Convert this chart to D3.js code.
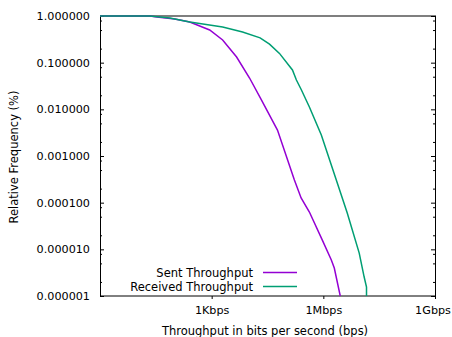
<!DOCTYPE html>
<html>
<head>
<meta charset="utf-8">
<script src="https://cdn.jsdelivr.net/npm/d3@7"></script>
<style>
  body { margin: 0; background: #fff; }
  text { font-family: "DejaVu Sans", sans-serif; font-size: 11.5px; fill: #000; }
</style>
</head>
<body>
<script>
// throughput (bps) vs relative frequency
var sentBps  = [1, 21.8, 33.6, 102, 258, 884, 1972, 4677, 10420, 21850, 58600, 167000, 253000, 422000, 940000, 1640000, 1970000, 2850000];
var sentFreq = [1, 1, 0.952, 0.863, 0.744, 0.501, 0.306, 0.132, 0.0469, 0.0158, 0.0036, 0.000306, 0.000126, 0.000063, 0.0000158, 0.0000059, 0.00000398, 0.000001];

var recvBps  = [1, 21.8, 75, 258, 1972, 6760, 20000, 35800, 66300, 148000, 189000, 258000, 422000, 883000, 2230000, 4390000, 9210000, 12500000, 14450000, 14450000];
var recvFreq = [1, 1, 0.906, 0.744, 0.581, 0.454, 0.34, 0.25, 0.158, 0.0697, 0.0425, 0.026, 0.0112, 0.00282, 0.000306, 0.00006, 0.0000083, 0.00000255, 0.00000156, 0.000001];

var xTicks = [1e3, 1e6, 1e9];
var xTickLabels = ["1Kbps", "1Mbps", "1Gbps"];
var yTicks = [1, 0.1, 0.01, 0.001, 0.0001, 0.00001, 0.000001];

var seriesNames = ["Sent Throughput", "Received Throughput"];
var colors = ["#9400d3", "#009e73"];

var W = 452, H = 337;
var margin = {top: 16, right: 17, bottom: 41, left: 100};
var width = W - margin.left - margin.right,
    height = H - margin.top - margin.bottom;

var svg = d3.select("body").append("svg")
    .attr("width", W)
    .attr("height", H);

var g = svg.append("g")
    .attr("transform", "translate(" + margin.left + "," + margin.top + ")");

var x = d3.scaleLog().domain([1, 1e9]).range([0, width]);
var y = d3.scaleLog().domain([1e-6, 1]).range([height, 0]);

// minor y ticks at 2, 5, 8 of each decade
var yMinor = [];
for (var e = -6; e < 0; e++) {
  [2, 5, 8].forEach(function(m) { yMinor.push(m * Math.pow(10, e)); });
}

g.append("g")
    .call(d3.axisLeft(y).tickValues(yMinor).tickSize(-2).tickFormat(""))
    .call(function(s) { s.select(".domain").remove(); });
g.append("g")
    .attr("transform", "translate(" + width + ",0)")
    .call(d3.axisRight(y).tickValues(yMinor).tickSize(-2).tickFormat(""))
    .call(function(s) { s.select(".domain").remove(); });

g.append("g")
    .call(d3.axisLeft(y).tickValues(yTicks).tickSize(-4).tickPadding(10)
      .tickFormat(d3.format(".6f")))
    .call(function(s) { s.select(".domain").remove(); s.selectAll("text").style("font-size", "11.2px").style("font-family", "DejaVu Sans"); });
g.append("g")
    .attr("transform", "translate(" + width + ",0)")
    .call(d3.axisRight(y).tickValues(yTicks).tickSize(-4).tickFormat(""))
    .call(function(s) { s.select(".domain").remove(); });

g.append("g")
    .attr("transform", "translate(0," + height + ")")
    .call(d3.axisBottom(x).tickValues(xTicks).tickSize(3).tickPadding(7)
      .tickFormat(function(d, i) { return xTickLabels[i]; }))
    .call(function(s) {
      s.select(".domain").remove();
      s.selectAll("text").style("font-size", "11.2px").style("font-family", "DejaVu Sans");
      // keep the last label inside the window
      s.selectAll("text").filter(function(d) { return d === 1e9; }).attr("dx", "-2.5");
    });

// frame
g.append("rect")
    .attr("x", 0.5).attr("y", 0)
    .attr("width", width).attr("height", height)
    .attr("fill", "none")
    .attr("stroke", "#000")
    .attr("stroke-width", 1);

var line = d3.line()
    .x(function(d) { return x(d[0]); })
    .y(function(d) { return y(d[1]); });

var series = [d3.zip(sentBps, sentFreq), d3.zip(recvBps, recvFreq)];

series.forEach(function(s, i) {
  g.append("path")
      .datum(s)
      .attr("d", line)
      .attr("fill", "none")
      .attr("stroke", colors[i])
      .attr("stroke-width", 1.5);
});

// legend
var legend = svg.append("g");
seriesNames.forEach(function(name, i) {
  var ly = 272.5 + i * 14;
  legend.append("text")
      .attr("x", 253).attr("y", ly + 4)
      .attr("text-anchor", "end")
      .text(name);
  legend.append("line")
      .attr("x1", 263).attr("x2", 297)
      .attr("y1", ly).attr("y2", ly)
      .attr("stroke", colors[i])
      .attr("stroke-width", 1.5);
});

// axis titles
svg.append("text")
    .attr("x", 265).attr("y", 334.5)
    .attr("text-anchor", "middle")
    .text("Throughput in bits per second (bps)");

svg.append("text")
    .attr("transform", "translate(18,157) rotate(-90)")
    .attr("text-anchor", "middle")
    .text("Relative Frequency (%)");
</script>
</body>
</html>
